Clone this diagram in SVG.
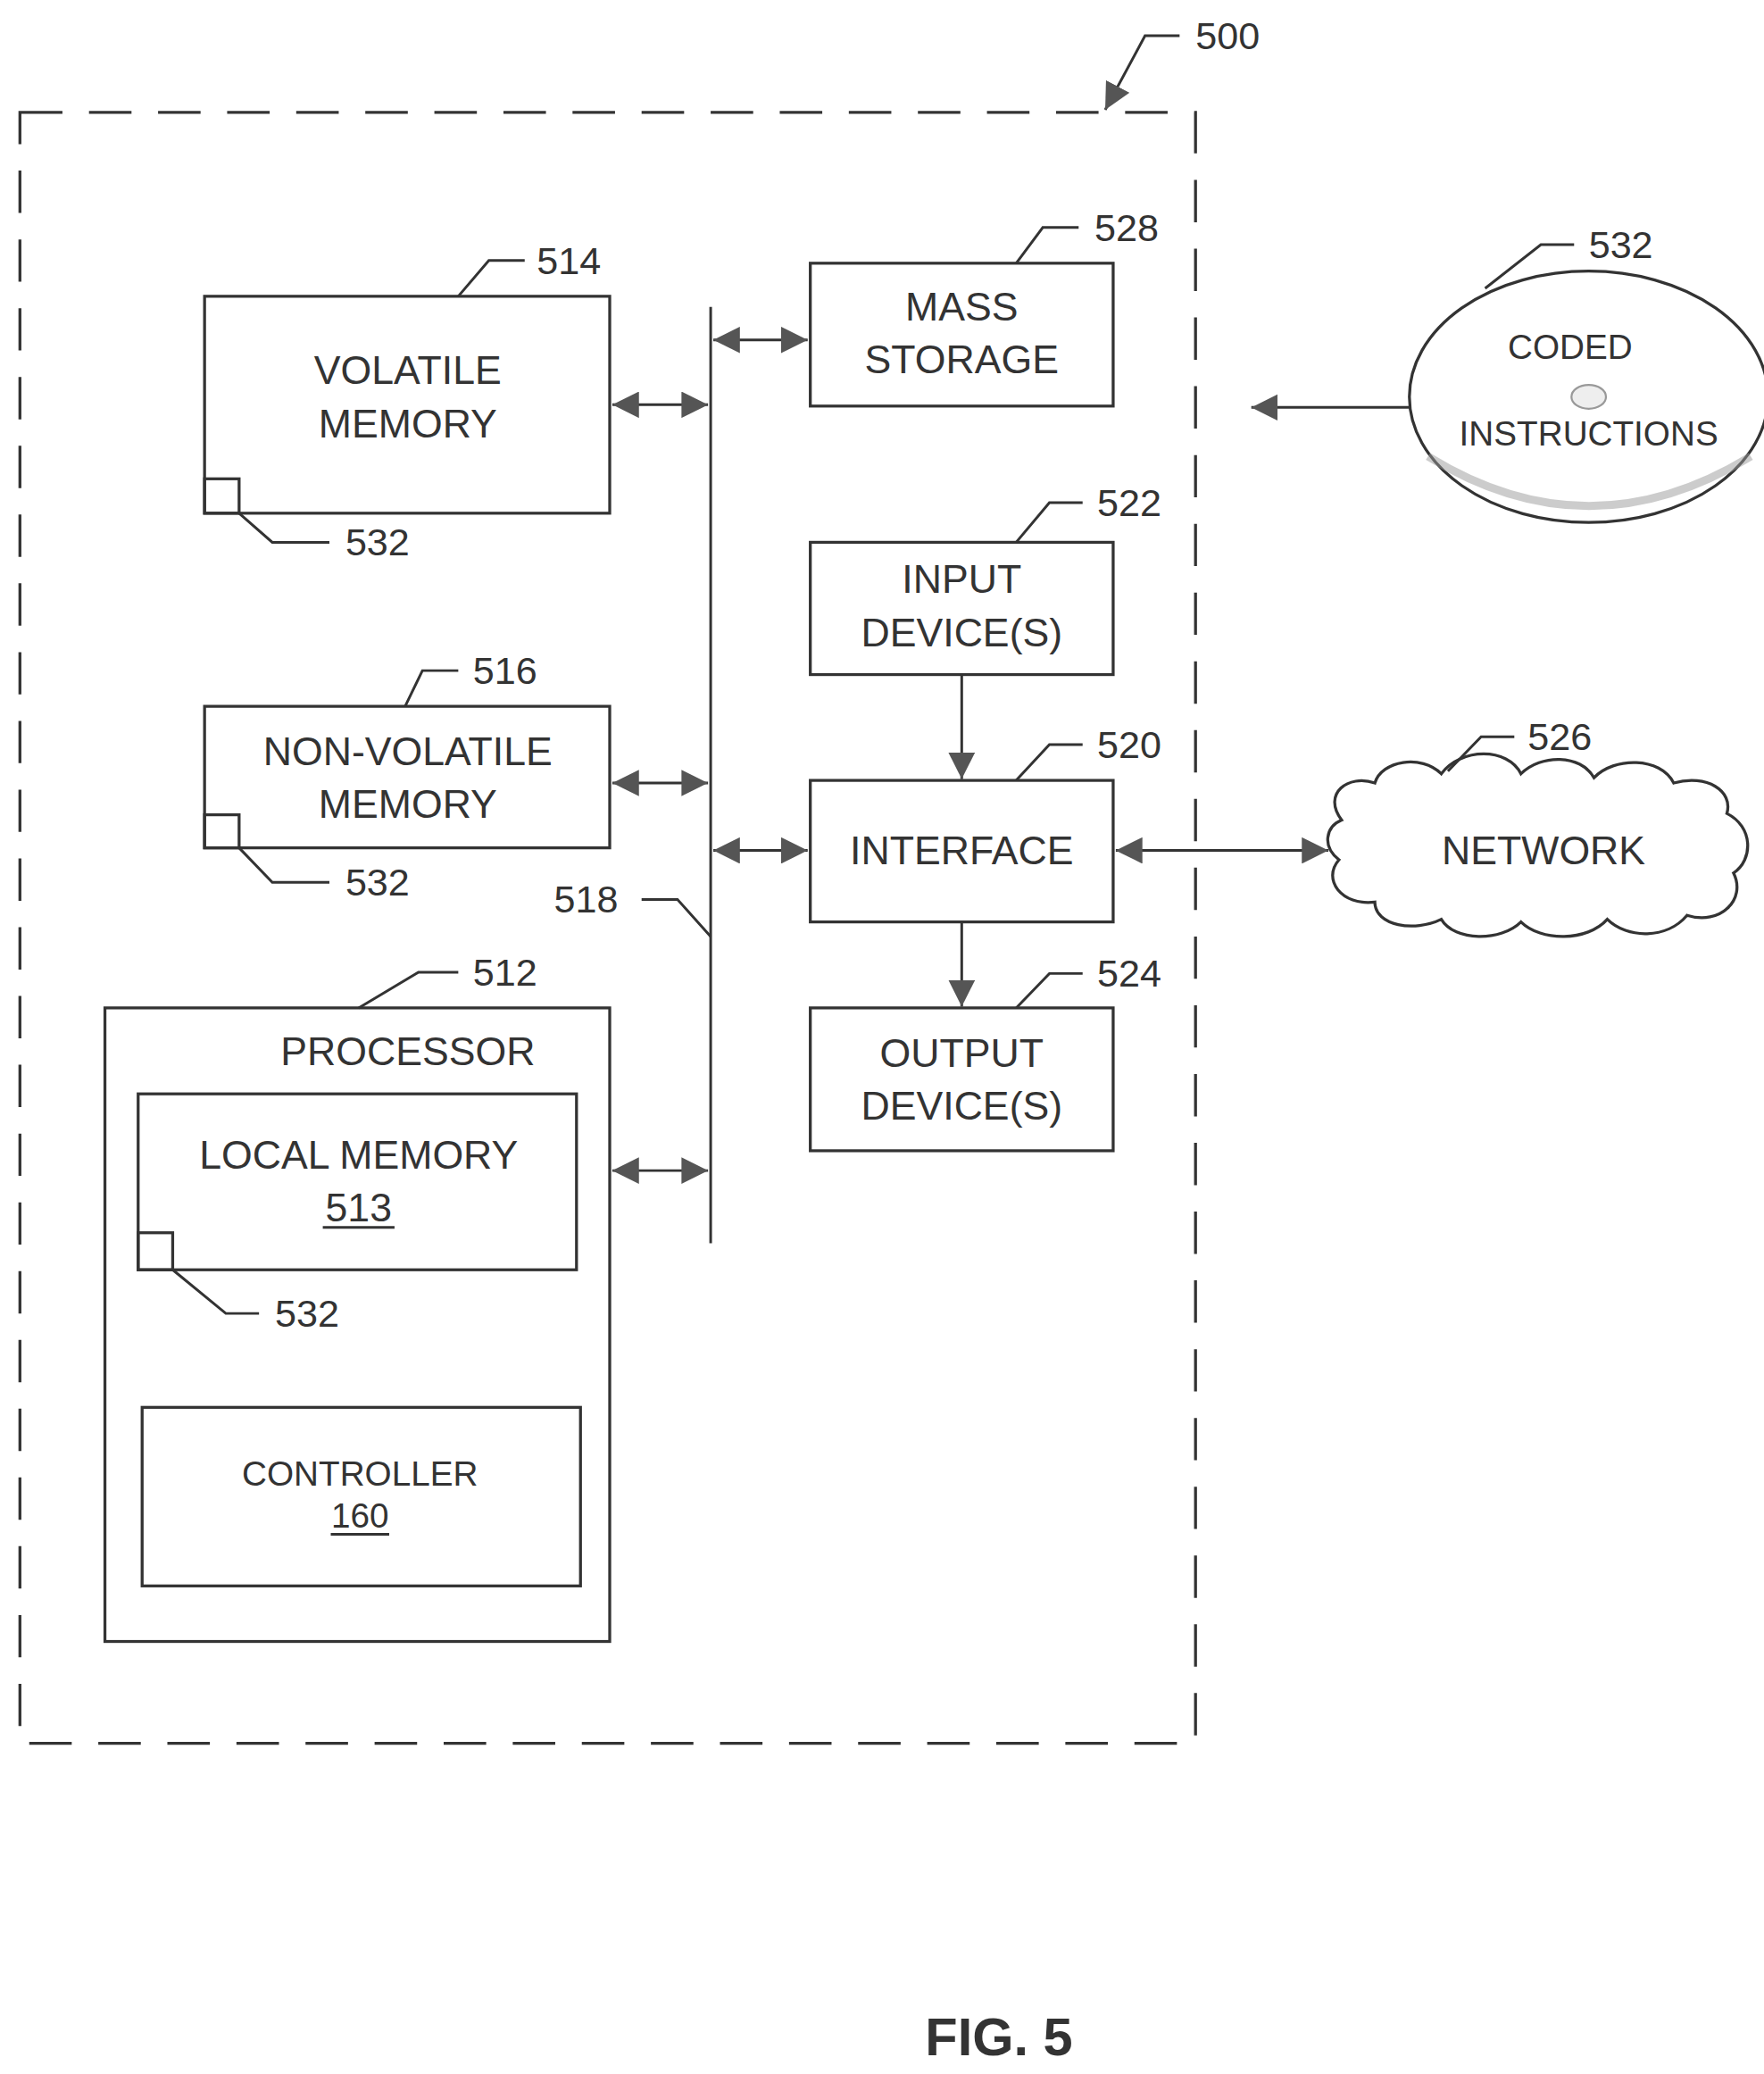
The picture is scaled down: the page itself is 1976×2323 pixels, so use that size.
<svg xmlns="http://www.w3.org/2000/svg" width="1976" height="2323" viewBox="0 0 1976 2323">
<style>
text{font-family:"Liberation Sans",Arial,sans-serif;fill:#333;text-anchor:middle;dominant-baseline:central}
.t{font-size:30px}
.n{font-size:29px;text-anchor:start}
.s{font-size:26px}
.b{fill:none;stroke:#333;stroke-width:2.2}
.l{fill:none;stroke:#333;stroke-width:2}
.a{fill:none;stroke:#333;stroke-width:2;marker-end:url(#ah)}
.d{fill:none;stroke:#333;stroke-width:2;marker-end:url(#ah);marker-start:url(#as)}
</style>
<defs>
<marker id="ah" viewBox="0 0 20 20" refX="20" refY="10" markerWidth="20" markerHeight="20" markerUnits="userSpaceOnUse" orient="auto"><path d="M0,0 L20,10 L0,20 Z" fill="#555"/></marker>
<marker id="as" viewBox="0 0 20 20" refX="0" refY="10" markerWidth="20" markerHeight="20" markerUnits="userSpaceOnUse" orient="auto"><path d="M20,0 L0,10 L20,20 Z" fill="#555"/></marker>
</defs>
<rect width="1976" height="2323" fill="#fff"/>
<g transform="scale(1.488,1.4815)">
<g id="boundary">
<rect x="15" y="85" width="885" height="1233" fill="none" stroke="#333" stroke-width="2.2" stroke-dasharray="32,20"/>
<path class="a" d="M888,27 H862 L832,83"/>
<text class="n" x="900" y="27">500</text>
</g>
<g id="volatile">
<rect class="b" x="154" y="224" width="305" height="164"/>
<text class="t" x="307" y="280">VOLATILE</text><text class="t" x="307" y="320">MEMORY</text>
<rect class="b" x="154" y="362" width="26" height="26"/>
<path class="l" d="M180,388 L205,410 H248"/><text class="n" x="260" y="410">532</text>
<path class="l" d="M345,224 L368,197 H395"/><text class="n" x="404" y="197">514</text>
</g>
<g id="nonvolatile">
<rect class="b" x="154" y="534" width="305" height="107"/>
<text class="t" x="307" y="568">NON-VOLATILE</text><text class="t" x="307" y="608">MEMORY</text>
<rect class="b" x="154" y="616" width="26" height="25"/>
<path class="l" d="M180,641 L205,667 H248"/><text class="n" x="260" y="667">532</text>
<path class="l" d="M305,534 L318,507 H345"/><text class="n" x="356" y="507">516</text>
</g>
<g id="processor">
<rect class="b" x="79" y="762" width="380" height="479"/>
<text class="t" x="307" y="795">PROCESSOR</text>
<path class="l" d="M270,762 L315,735 H345"/><text class="n" x="356" y="735">512</text>
</g>
<g id="localmemory">
<rect class="b" x="104" y="827" width="330" height="133"/>
<text class="t" x="270" y="873">LOCAL MEMORY</text>
<text class="t" x="270" y="913">513</text><path class="l" d="M243,928 H297"/>
<rect class="b" x="104" y="932" width="26" height="28"/>
<path class="l" d="M130,960 L170,993 H195"/><text class="n" x="207" y="993">532</text>
</g>
<g id="controller">
<rect class="b" x="107" y="1064" width="330" height="135"/>
<text class="s" x="271" y="1114">CONTROLLER</text>
<text class="s" x="271" y="1146">160</text><path class="l" d="M249,1160 H293"/>
</g>
<g id="massstorage">
<rect class="b" x="610" y="199" width="228" height="108"/>
<text class="t" x="724" y="232">MASS</text><text class="t" x="724" y="272">STORAGE</text>
<path class="l" d="M765,199 L785,172 H812"/><text class="n" x="824" y="172">528</text>
</g>
<g id="input">
<rect class="b" x="610" y="410" width="228" height="100"/>
<text class="t" x="724" y="438">INPUT</text><text class="t" x="724" y="478">DEVICE(S)</text>
<path class="l" d="M765,410 L790,380 H815"/><text class="n" x="826" y="380">522</text>
</g>
<g id="interface">
<rect class="b" x="610" y="590" width="228" height="107"/>
<text class="t" x="724" y="643">INTERFACE</text>
<path class="l" d="M765,590 L790,563 H815"/><text class="n" x="826" y="563">520</text>
</g>
<g id="output">
<rect class="b" x="610" y="762" width="228" height="108"/>
<text class="t" x="724" y="796">OUTPUT</text><text class="t" x="724" y="836">DEVICE(S)</text>
<path class="l" d="M765,762 L790,736 H815"/><text class="n" x="826" y="736">524</text>
</g>
<g id="network">
<path class="b" d="M1010,620 C995,600 1015,585 1035,592 C1040,575 1070,570 1085,585 C1100,565 1135,565 1145,585 C1160,570 1190,570 1200,588 C1215,572 1250,572 1260,592 C1285,585 1305,598 1300,615 C1320,625 1320,650 1305,660 C1315,680 1295,700 1270,692 C1255,710 1225,710 1210,695 C1195,712 1160,712 1145,697 C1130,712 1095,712 1085,695 C1065,705 1035,700 1035,682 C1010,685 995,665 1008,650 C995,640 998,625 1010,620 Z"/>
<text class="t" x="1162" y="643">NETWORK</text>
<path class="l" d="M1090,583 L1115,557 H1140"/><text class="n" x="1150" y="557">526</text>
</g>
<g id="coded">
<ellipse cx="1196" cy="300" rx="135" ry="95" fill="#fff" stroke="#333" stroke-width="2.2"/>
<path d="M1075,345 Q1196,420 1318,345" fill="none" stroke="#999" stroke-width="6" opacity="0.5"/>
<text class="s" x="1182" y="262">CODED</text>
<ellipse cx="1196" cy="300" rx="13" ry="9" fill="#eee" stroke="#999" stroke-width="1.5"/>
<text class="s" x="1196" y="328">INSTRUCTIONS</text>
<path class="l" d="M1118,218 L1160,185 H1185"/><text class="n" x="1196" y="185">532</text>
</g>
<g id="connectors">
<path class="l" d="M535,232 V940"/>
<path class="l" d="M535,708 L510,680 H483"/><text class="n" x="417" y="680">518</text>
<path class="d" d="M461,306 H533"/>
<path class="d" d="M461,592 H533"/>
<path class="d" d="M461,885 H533"/>
<path class="d" d="M537,257 H608"/>
<path class="d" d="M537,643 H608"/>
<path class="a" d="M724,510 V589"/>
<path class="a" d="M724,697 V761"/>
<path class="d" d="M840,643 H1000"/>
<path class="a" d="M1061,308 H942"/>
</g>
<text x="752" y="1540" style="font-size:40px;font-weight:bold">FIG. 5</text>
</g>
</svg>
